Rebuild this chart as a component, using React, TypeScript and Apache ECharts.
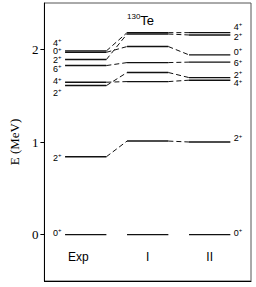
import React, { useEffect, useRef } from "react";
import * as echarts from "echarts";

// Level spins (digit + parity) in order: 0+1, 2+1, 2+2, 4+1, 6+1, 2+3, 0+2, 4+2
const levelSpins = ["0+", "2+", "2+", "4+", "6+", "2+", "0+", "4+"];
const expEnergies = [0, 0.841, 1.609, 1.645, 1.825, 1.89, 1.968, 1.983];
const model1Energies = [0, 1.01, 1.75, 1.652, 1.857, 2.165, 2.03, 2.18];
const model2Energies = [0, 1.0, 1.695, 1.667, 1.862, 2.155, 1.94, 2.18];
const columnNames = ["Exp", "I", "II"];
const yTicks = [0, 1, 2];

// layout (not data)
const colSpan = [
  [1, 3],
  [4, 6],
  [7, 9],
];
const expLabelDy = [-2, 1, 7, -1, 3, 0, -1, -8];
const model2LabelDy = [-2, -4, -3, 3, 1, 2, -3, -6];

const spinFmt = (s: string) => `{n|${s.slice(0, -1)}}{s|${s.slice(-1)}}`;
const spinRich = {
  n: { fontSize: 9, fontFamily: "Liberation Sans", color: "#000", lineHeight: 7 },
  s: { fontSize: 6, fontFamily: "Liberation Sans", color: "#000", padding: [0, 0, 5, 0], lineHeight: 6 },
};

export default function App() {
  const ref = useRef<HTMLDivElement>(null);
  useEffect(() => {
    document.body.style.margin = "0";
    const chart = echarts.init(ref.current!, undefined, { renderer: "svg" });
    const cols = [expEnergies, model1Energies, model2Energies];
    const series: any[] = [];
    levelSpins.forEach((spin, i) => {
      cols.forEach((arr, c) => {
        const [x0, x1] = colSpan[c];
        const p0: any = { value: [x0, arr[i]] };
        const p1: any = { value: [x1, arr[i]] };
        if (c === 0) {
          p0.label = {
            show: true,
            position: "left",
            distance: 3,
            offset: [0, expLabelDy[i]],
            formatter: spinFmt(spin),
            rich: spinRich,
          };
        }
        if (c === 2) {
          p1.label = {
            show: true,
            position: "right",
            distance: 3,
            offset: [0, model2LabelDy[i]],
            formatter: spinFmt(spin),
            rich: spinRich,
          };
        }
        series.push({
          type: "line",
          data: [p0, p1],
          symbol: "circle",
          symbolSize: 1,
          showSymbol: true,
          itemStyle: { color: "transparent" },
          lineStyle: { color: "#111", width: 1.4 },
          label: { show: false },
          silent: true,
        });
      });
      if (i > 0) {
        for (let c = 0; c < 2; c++) {
          series.push({
            type: "line",
            data: [
              [colSpan[c][1], cols[c][i]],
              [colSpan[c + 1][0], cols[c + 1][i]],
            ],
            symbol: "none",
            lineStyle: { color: "#111", width: 1, type: [5, 3] },
            silent: true,
          });
        }
      }
    });

    chart.setOption({
      animation: false,
      title: {
        text: "{a|130}{b|Te}",
        left: 122,
        top: 7,
        textStyle: {
          rich: {
            a: { fontSize: 8, fontFamily: "Liberation Sans", fontWeight: "normal", color: "#000", padding: [0, 0, 8, 0] },
            b: { fontSize: 13, fontFamily: "Liberation Sans", fontWeight: "normal", color: "#000" },
          },
        },
      },
      grid: {
        left: 28,
        top: 3,
        right: 5,
        bottom: 6,
        show: true,
        borderColor: "#555",
        borderWidth: 1,
      },
      xAxis: {
        type: "value",
        min: 0,
        max: 10,
        axisLine: { show: true, onZero: false, lineStyle: { color: "#000" } },
        axisTick: { show: false },
        splitLine: { show: false },
        axisLabel: {
          inside: true,
          margin: 18,
          customValues: [2, 5, 8],
          formatter: (v: number) => {
            const idx = [2, 5, 8].indexOf(v);
            const name = columnNames[idx] ?? "";
            return idx === 0 ? `{e|${name}}` : `{c|${name}}`;
          },
          rich: {
            e: { fontSize: 12, fontFamily: "Liberation Sans", color: "#000", padding: [0, 15, 0, 0] },
            c: { fontSize: 12, fontFamily: "Liberation Sans", color: "#000" },
          },
        },
      },
      yAxis: {
        type: "value",
        min: -0.5,
        max: 2.5,
        name: "E (MeV)",
        nameLocation: "middle",
        nameGap: 20,
        nameTextStyle: { fontFamily: "Liberation Serif", fontSize: 13, color: "#000" },
        axisLine: { show: true, onZero: false, lineStyle: { color: "#000" } },
        axisTick: { show: true, length: 4, customValues: yTicks, lineStyle: { color: "#000" } },
        splitLine: { show: false },
        axisLabel: {
          customValues: yTicks,
          margin: 6,
          fontFamily: "Liberation Serif",
          fontSize: 13,
          color: "#000",
        },
      },
      series,
    });
    return () => chart.dispose();
  }, []);
  return <div ref={ref} style={{ width: 256, height: 287, position: "absolute", left: 0, top: 0 }} />;
}
